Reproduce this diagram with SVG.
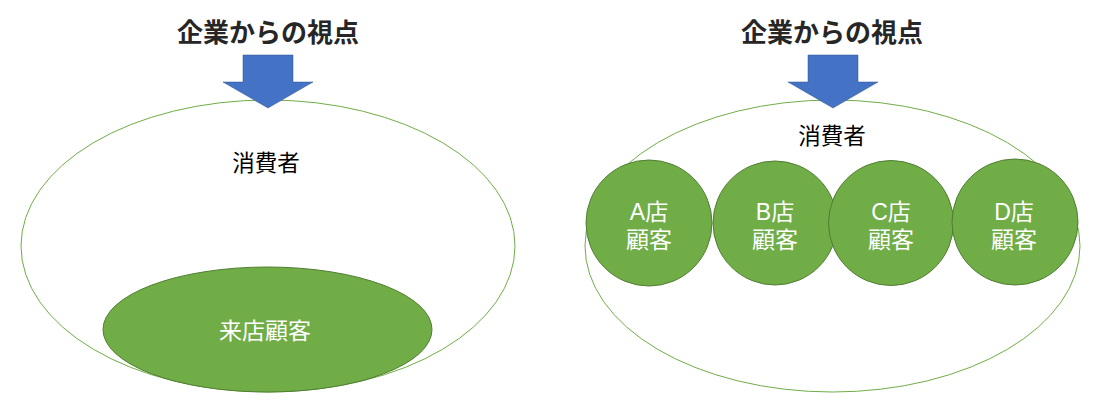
<svg xmlns="http://www.w3.org/2000/svg" width="1100" height="400" viewBox="0 0 1100 400">
<style>
.title{font-family:"Noto Sans CJK JP","Noto Sans CJK SC",sans-serif;font-size:26px;font-weight:bold;fill:#262626;text-anchor:middle}
.lbl{font-family:"Noto Sans CJK JP","Noto Sans CJK SC",sans-serif;font-size:22.5px;fill:#000;text-anchor:middle}
.wlbl{font-family:"Liberation Sans","Noto Sans CJK JP",sans-serif;font-size:23px;fill:#fff;text-anchor:middle}
.outer{fill:#fff;stroke:#70AD47;stroke-width:1}
.green{fill:#70AD47;stroke:#507E32;stroke-width:1}
.arrow{fill:#4472C4;stroke:#2F528F;stroke-width:0.5}
</style>
<rect width="1100" height="400" fill="#fff"/>
<g id="left-consumers">
<ellipse class="outer" cx="268" cy="246" rx="247" ry="146"/>
<text class="lbl" x="266" y="171">消費者</text>
</g>
<g id="left-visitors">
<ellipse class="green" cx="267.5" cy="329.5" rx="164.5" ry="62.5"/>
<text class="wlbl" x="265" y="339">来店顧客</text>
</g>
<g id="left-title">
<text class="title" x="268" y="42">企業からの視点</text>
</g>
<g id="right-consumers">
<ellipse class="outer" cx="832.5" cy="246" rx="247.5" ry="146"/>
<text class="lbl" x="832" y="144">消費者</text>
</g>
<g id="right-title">
<text class="title" x="832" y="42">企業からの視点</text>
</g>
<g id="storeA">
<circle class="green" cx="649" cy="223" r="63"/>
<text class="wlbl" x="649" y="220">A店</text>
<text class="wlbl" x="649" y="248">顧客</text>
</g>
<g id="storeB">
<circle class="green" cx="775" cy="223" r="62"/>
<text class="wlbl" x="775" y="220">B店</text>
<text class="wlbl" x="775" y="248">顧客</text>
</g>
<g id="storeC">
<circle class="green" cx="891" cy="223" r="62.5"/>
<text class="wlbl" x="891" y="220">C店</text>
<text class="wlbl" x="891" y="248">顧客</text>
</g>
<g id="storeD">
<circle class="green" cx="1015" cy="222" r="63"/>
<text class="wlbl" x="1014" y="220">D店</text>
<text class="wlbl" x="1014" y="248">顧客</text>
</g>
<g id="connectors">
<polygon class="arrow" points="243,55 293,55 293,82 313,82 268,108 223,82 243,82"/>
<polygon class="arrow" points="808,55 858,55 858,82 878,82 833,108 788,82 808,82"/>
</g>
</svg>
